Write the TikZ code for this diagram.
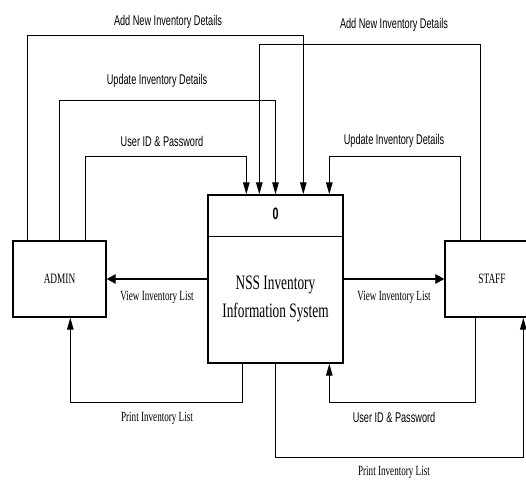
\documentclass[tikz,border=0pt]{standalone}
\usepackage{fontspec}
\setmainfont{Liberation Serif}[FakeStretch=0.65]
\newfontfamily\narrowsans{Liberation Sans}[FakeStretch=0.65]
\usetikzlibrary{arrows.meta}

\tikzset{
  box/.style={draw,line width=1.4pt,inner sep=0pt},
  flow/.style={line width=1.3pt,->},
  side/.style={-{Triangle[length=9pt,width=9.5pt]}},
  sanslbl/.style={font=\narrowsans\fontsize{14.1}{16}\selectfont},
  seriflbl/.style={font=\fontsize{14}{16}\selectfont},
}

\begin{document}
\begin{tikzpicture}[x=1pt,y=-1pt,>={Triangle[length=12pt,width=6.5pt]}]
\useasboundingbox (0,0) rectangle (526,479);
\clip (0,0) rectangle (526,479);
% entities and process
\node[box,minimum width=93pt,minimum height=76pt,font=\fontsize{14.3}{16}\selectfont] (admin) at (59.5,279) {ADMIN};
\node[box,minimum width=94pt,minimum height=76pt,font=\fontsize{14.3}{16}\selectfont] (staff) at (492,279) {STAFF};
\node[box,minimum width=135pt,minimum height=168pt] (proc) at (275.5,279) {};
\draw[line width=1.4pt] ([yshift=-42pt]proc.north west) -- ([yshift=-42pt]proc.north east);
\node[font=\narrowsans\bfseries\fontsize{16.5}{18}\selectfont] (pnum) at (275.5,214) {0};
\node[align=center,font=\fontsize{20.5}{28}\selectfont] (pname) at (275.5,299) {NSS Inventory\\Information System};
% flows into the process
\draw[flow] ([xshift=15pt]admin.north west) -- ++(0,-205) -| ([xshift=96pt]proc.north west);
\draw[flow] (admin.north) -- ++(0,-140) -| (proc.north);
\draw[flow] ([xshift=73pt]admin.north west) -- ++(0,-84) -| ([xshift=39pt]proc.north west);
\draw[flow] ([xshift=36pt]staff.north west) -- ++(0,-196) -| ([xshift=52pt]proc.north west);
\draw[flow] ([xshift=16pt]staff.north west) -- ++(0,-84) -| ([xshift=122pt]proc.north west);
\draw[flow] ([xshift=31pt]staff.south west) -- ++(0,85) -| ([xshift=122pt]proc.south west);
% flows out of the process
\draw[flow,side] (proc.west) -- (admin.east);
\draw[flow,side] (proc.east) -- (staff.west);
\draw[flow] ([xshift=35pt]proc.south west) -- ++(0,39) -| ([xshift=58pt]admin.south west);
\draw[flow] (proc.south) -- ++(0,94) -| ([xshift=79pt]staff.south west);
% labels
\node[sanslbl] (lAddAdmin) at (168,22) {Add New Inventory Details};
\node[sanslbl] (lUpdAdmin) at (157,81) {Update Inventory Details};
\node[sanslbl] (lUidAdmin) at (162,141) {User ID \& Password};
\node[sanslbl] (lAddStaff) at (394,25) {Add New Inventory Details};
\node[sanslbl] (lUpdStaff) at (394,141) {Update Inventory Details};
\node[seriflbl] (lViewAdmin) at (157,297) {View Inventory List};
\node[seriflbl] (lViewStaff) at (394,297) {View Inventory List};
\node[seriflbl] (lPrintAdmin) at (157,418) {Print Inventory List};
\node[sanslbl] (lUidStaff) at (394,417) {User ID \& Password};
\node[seriflbl] (lPrintStaff) at (394,472) {Print Inventory List};
\end{tikzpicture}
\end{document}
